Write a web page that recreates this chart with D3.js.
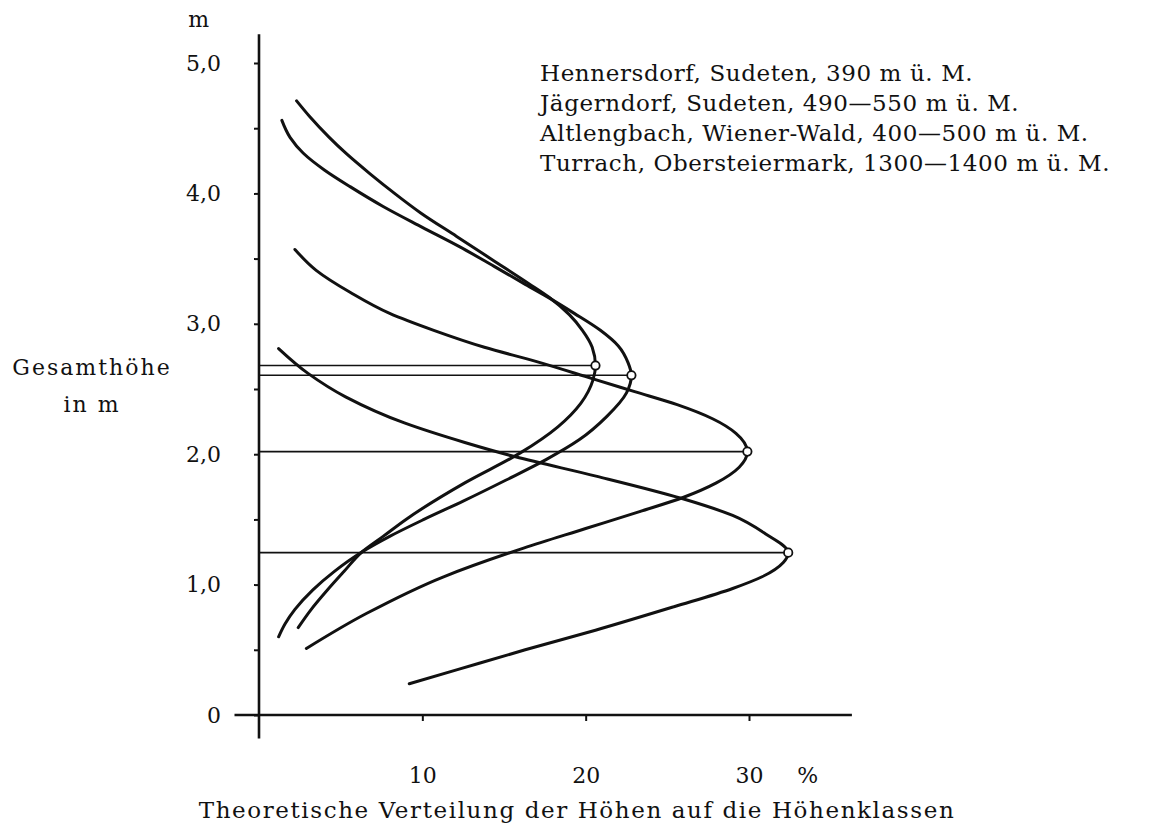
<!DOCTYPE html>
<html><head><meta charset="utf-8">
<script src="https://cdn.jsdelivr.net/npm/d3@7/dist/d3.min.js"></script>
<style>
html,body{margin:0;padding:0;background:#fff;}
svg{display:block;}
text{font-family:"DejaVu Serif","Liberation Serif",serif;fill:#111;}
</style></head><body>
<svg id="chart" width="1160" height="829"></svg>
<script>
// ---------- data ----------
const seriesNames = [
  "Hennersdorf, Sudeten, 390 m ü. M.",
  "Jägerndorf, Sudeten, 490—550 m ü. M.",
  "Altlengbach, Wiener-Wald, 400—500 m ü. M.",
  "Turrach, Obersteiermark, 1300—1400 m ü. M."
];
// points: [percent, height in m]
const hennersdorf = [
  [2.3,4.71],[3.1,4.59],[4.3,4.43],[5.3,4.31],[6.8,4.15],[8.3,4.0],[9.9,3.85],
  [12.1,3.67],[14.3,3.49],[16.5,3.31],[17.8,3.2],[19.0,3.07],[19.8,2.95],[20.4,2.82],
  [20.6,2.68],[20.45,2.57],[19.7,2.39],[18.3,2.21],[16.0,2.01],[12.6,1.78],[9.0,1.5],
  [7.6,1.37],[6.3,1.25],[5.2,1.1],[4.2,0.96],[3.2,0.81],[2.4,0.67]
];
const jaegerndorf = [
  [1.4,4.56],[1.9,4.43],[2.7,4.31],[4.0,4.18],[5.6,4.05],[7.6,3.9],[10.0,3.74],
  [12.3,3.59],[14.4,3.44],[16.2,3.31],[17.6,3.21],[19.3,3.08],[20.9,2.95],[22.0,2.83],
  [22.6,2.7],[22.8,2.605],[22.5,2.47],[21.3,2.29],[19.6,2.11],[17.6,1.96],[15.1,1.8],
  [12.5,1.64],[10.1,1.5],[8.0,1.37],[6.3,1.25],[4.6,1.1],[3.3,0.96],[2.2,0.81],[1.6,0.7],[1.2,0.6]
];
const altlengbach = [
  [2.2,3.57],[3.5,3.41],[5.6,3.24],[8.0,3.08],[10.7,2.95],[13.8,2.82],[17.0,2.71],
  [20.4,2.58],[23.0,2.48],[25.6,2.38],[27.8,2.27],[29.2,2.16],[29.9,2.02],
  [29.4,1.9],[28.0,1.78],[26.0,1.67],[23.3,1.56],[20.0,1.43],[16.2,1.28],
  [11.3,1.06],[6.6,0.78],[2.9,0.51]
];
const turrach = [
  [1.2,2.81],[3.0,2.62],[5.3,2.44],[8.9,2.24],[12.6,2.09],[15.7,1.98],[20.7,1.83],
  [25.9,1.66],[29.0,1.53],[31.0,1.39],[32.4,1.245],[32.1,1.17],[30.8,1.06],
  [29.0,0.97],[25.4,0.83],[20.6,0.65],[16.3,0.5],[12.2,0.35],[9.2,0.24]
];
// peak (mode) of each curve: [percent, height]
const peaks = [[20.6,2.68],[22.8,2.605],[29.9,2.02],[32.4,1.245]];
const yTicks = [0,0.5,1,1.5,2,2.5,3,3.5,4,4.5,5];
const yTickLabels = {0:"0",1:"1,0",2:"2,0",3:"3,0",4:"4,0",5:"5,0"};
const xTicks = [10,20,30];
const xUnit = "%";
const yUnit = "m";
const yTitle = ["Gesamthöhe","in m"];
const chartTitle = "Theoretische Verteilung der Höhen auf die Höhenklassen";

// ---------- scales ----------
const svg = d3.select("#chart");
const x = d3.scaleLinear().domain([0,30]).range([259,749]);
const y = d3.scaleLinear().domain([0,5]).range([715,63]);
const ink = "#111";
const serif = '"DejaVu Serif","Liberation Serif",serif';

// ---------- axes ----------
svg.append("line")
  .attr("x1",x(0)).attr("x2",x(0)).attr("y1",y(5.22)).attr("y2",y(-0.18))
  .attr("stroke",ink).attr("stroke-width",2.6);
svg.append("line")
  .attr("x1",x(-1.5)).attr("x2",x(36.3)).attr("y1",y(0)).attr("y2",y(0))
  .attr("stroke",ink).attr("stroke-width",2.4);

const gy = svg.append("g").attr("transform",`translate(${x(0)},0)`)
  .call(d3.axisLeft(y).tickValues(yTicks).tickSize(5).tickPadding(33)
    .tickFormat(d => yTickLabels[d] !== undefined ? yTickLabels[d] : ""));
gy.select(".domain").remove();
gy.selectAll(".tick line").attr("stroke",ink).attr("stroke-width",2);
gy.selectAll(".tick text").attr("font-size",22).attr("fill",ink).style("font-family",serif);

const gx = svg.append("g").attr("transform",`translate(0,${y(0)})`)
  .call(d3.axisBottom(x).tickValues(xTicks).tickSize(6).tickPadding(46).tickFormat(d3.format("d")));
gx.select(".domain").remove();
gx.selectAll(".tick line").attr("stroke",ink).attr("stroke-width",2);
gx.selectAll(".tick text").attr("font-size",22).attr("fill",ink).style("font-family",serif);

svg.append("text").attr("x",x(33.6)).attr("y",y(0)+68).attr("text-anchor","middle")
  .attr("font-size",22).text(xUnit);
svg.append("text").attr("x",x(-3.7)).attr("y",y(5.3)+3).attr("text-anchor","middle")
  .attr("font-size",22).text(yUnit);

// y title
svg.append("text").attr("x",92).attr("y",375).attr("text-anchor","middle")
  .attr("font-size",22).attr("letter-spacing",2).text(yTitle[0]);
svg.append("text").attr("x",92).attr("y",412).attr("text-anchor","middle")
  .attr("font-size",22).attr("letter-spacing",2).text(yTitle[1]);

// chart title
svg.append("text").attr("x",577).attr("y",818).attr("text-anchor","middle")
  .attr("font-size",23).attr("letter-spacing",1.6).text(chartTitle);

// legend text block
svg.append("g").selectAll("text").data(seriesNames).join("text")
  .attr("x",540).attr("y",(d,i)=>81+i*30)
  .attr("font-size",23).attr("letter-spacing",0.6).text(d=>d);

// ---------- reference lines to peaks ----------
svg.append("g").selectAll("line").data(peaks).join("line")
  .attr("x1",x(0)).attr("x2",d=>x(d[0])).attr("y1",d=>y(d[1])).attr("y2",d=>y(d[1]))
  .attr("stroke",ink).attr("stroke-width",1.6);

// ---------- curves ----------
const line = d3.line().x(d=>x(d[0])).y(d=>y(d[1])).curve(d3.curveMonotoneY);
const curves = [hennersdorf,jaegerndorf,altlengbach,turrach];
svg.append("g").selectAll("path").data(curves).join("path")
  .attr("d",d=>line(d.slice().sort((a,b)=>a[1]-b[1])))
  .attr("fill","none").attr("stroke",ink).attr("stroke-width",3)
  .attr("stroke-linecap","round").attr("stroke-linejoin","round");

// peak markers
svg.append("g").selectAll("circle").data(peaks).join("circle")
  .attr("cx",d=>x(d[0])).attr("cy",d=>y(d[1])).attr("r",4.2)
  .attr("fill","#fff").attr("stroke",ink).attr("stroke-width",1.8);
</script>
</body></html>
